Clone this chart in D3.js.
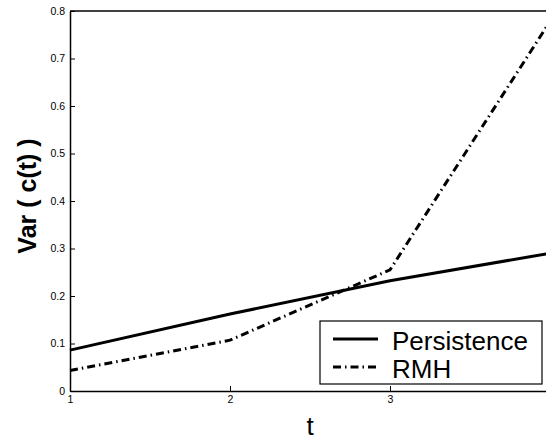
<!DOCTYPE html>
<html>
<head>
<meta charset="utf-8">
<script src="https://cdn.jsdelivr.net/npm/d3@7"></script>
<style>
  body { margin: 0; background: #fff; }
  svg { display: block; font-family: "Liberation Sans", Arial, sans-serif; }
</style>
</head>
<body>
<script>
// data
const tValues = [1, 2, 3, 4];
const persistence = [0.086, 0.162, 0.232, 0.29];
const rmh = [0.043, 0.107, 0.255, 0.778];
const xTicks = [1, 2, 3];
const yTicks = [0, 0.1, 0.2, 0.3, 0.4, 0.5, 0.6, 0.7, 0.8];
const seriesNames = ["Persistence", "RMH"];

let margin = {top: 11, left: 70, bottom: 50, right: 0};
let width = 480, height = 380;

let svg = d3.select("body").append("svg")
  .attr("width", 546).attr("height", 441);
let g = svg.append("g").attr("transform", `translate(${margin.left},${margin.top})`);

let x = d3.scaleLinear().domain([1, 4]).range([0, width]);
let y = d3.scaleLinear().domain([0, 0.8]).range([height, 0]);

// axes, ticks pointing inward like the original
g.append("g")
  .attr("transform", `translate(0,${height})`)
  .call(d3.axisBottom(x).tickValues(xTicks).tickSizeInner(-5).tickSizeOuter(0).tickPadding(5).tickFormat(d3.format("d")))
  .call(a => a.select(".domain").attr("stroke-width", 1.5))
  .call(a => a.selectAll("text").attr("font-size", 10.5).attr("fill", "#000"));

g.append("g")
  .call(d3.axisLeft(y).tickValues(yTicks).tickSizeInner(-5).tickSizeOuter(0).tickPadding(5).tickFormat(d => d === 0 ? "0" : d3.format(".1f")(d)))
  .call(a => a.select(".domain").attr("stroke-width", 1.5))
  .call(a => a.selectAll("text").attr("font-size", 10.5).attr("fill", "#000"));

// top and right frame
g.append("line").attr("x1", 0).attr("x2", width).attr("y1", 0).attr("y2", 0)
  .attr("stroke", "#000").attr("stroke-width", 1.5);
g.append("line").attr("x1", width).attr("x2", width).attr("y1", 0).attr("y2", height)
  .attr("stroke", "#000").attr("stroke-width", 1.5);

let line = d3.line().x((d, i) => x(tValues[i])).y(d => y(d));

g.append("path").datum(persistence)
  .attr("d", line).attr("fill", "none").attr("stroke", "#000").attr("stroke-width", 3);
g.append("path").datum(rmh)
  .attr("d", line).attr("fill", "none").attr("stroke", "#000").attr("stroke-width", 3)
  .attr("stroke-dasharray", "8,4,1.5,4");

// axis labels
svg.append("text").attr("x", 310).attr("y", 435).attr("text-anchor", "middle")
  .attr("font-size", 26).text("t");
svg.append("text").attr("transform", "translate(36,196) rotate(-90)").attr("text-anchor", "middle")
  .attr("font-size", 25).attr("font-weight", "bold").text("Var ( c(t) )");

// legend
let legend = svg.append("g").attr("transform", "translate(320,321)");
legend.append("rect").attr("width", 222).attr("height", 63)
  .attr("fill", "#fff").attr("stroke", "#000").attr("stroke-width", 1.2);
legend.selectAll("line.sample").data(seriesNames).enter().append("line")
  .attr("class", "sample")
  .attr("x1", 13).attr("x2", 58)
  .attr("y1", (d, i) => 18 + i * 28).attr("y2", (d, i) => 18 + i * 28)
  .attr("stroke", "#000").attr("stroke-width", 3)
  .attr("stroke-dasharray", (d, i) => i === 1 ? "8,4,1.5,4" : null);
legend.selectAll("text").data(seriesNames).enter().append("text")
  .attr("x", 72).attr("y", (d, i) => 29 + i * 28)
  .attr("font-size", 26).text(d => d);
</script>
</body>
</html>
